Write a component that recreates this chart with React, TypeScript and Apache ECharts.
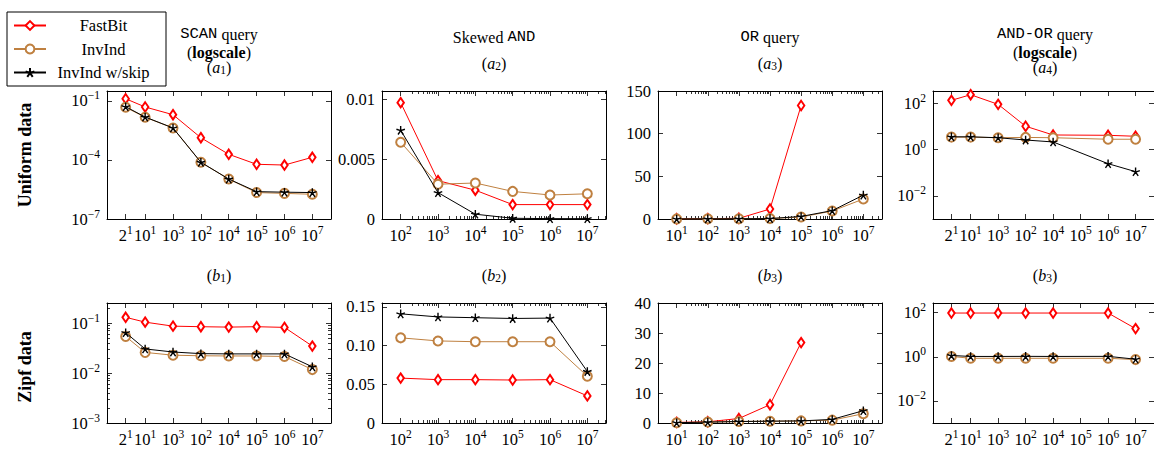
import React, { useEffect, useRef } from 'react';
import * as echarts from 'echarts';

// ---------- data ----------
const seriesNames = ['FastBit', 'InvInd', 'InvInd w/skip'];

const xMixed = [2, 10, 100, 1000, 1e4, 1e5, 1e6, 1e7];
const xMixedLabels = ['2^1', '10^1', '10^3', '10^2', '10^4', '10^5', '10^6', '10^7'];
const xAndOr = [2, 10, 100, 1000, 1e4, 1e6, 1e7];
const xSkewed = [1e2, 1e3, 1e4, 1e5, 1e6, 1e7];
const xSkewedLabels = ['10^2', '10^3', '10^4', '10^5', '10^6', '10^7'];
const xOr = [10, 100, 1000, 1e4, 1e5, 1e6, 1e7];
const xOrLabels = ['10^1', '10^2', '10^3', '10^4', '10^5', '10^6', '10^7'];
const xOrFastBit = [10, 100, 1000, 1e4, 1e5];

// (a1) SCAN query, uniform
const a1FastBit = [0.128, 0.0487, 0.0198, 0.00134, 0.000193, 0.00006, 0.000055, 0.000136];
const a1InvInd = [0.047, 0.0146, 0.0042, 0.0000757, 0.0000107, 0.0000022, 0.000002, 0.0000018];
const a1Skip = [0.0505, 0.0151, 0.0042, 0.000076, 0.0000107, 0.00000245, 0.0000023, 0.0000022];
// (a2) Skewed AND, uniform
const a2FastBit = [0.0097, 0.0032, 0.0024, 0.0012, 0.0012, 0.0012];
const a2InvInd = [0.0064, 0.0029, 0.003, 0.0023, 0.002, 0.0021];
const a2Skip = [0.0074, 0.0022, 0.0004, 0.00006, 0.00003, 0.00003];
// (a3) OR query, uniform
const a3FastBit = [0.3, 0.4, 0.8, 11.7, 133];
const a3InvInd = [0.1, 0.2, 0.3, 0.5, 2.3, 9.4, 23.4];
const a3Skip = [0.1, 0.2, 0.3, 0.5, 3.0, 9.8, 28];
// (a4) AND-OR query, uniform
const a4FastBit = [131, 229, 88, 10, 4.2, 4.07, 3.7];
const a4InvInd = [3.4, 3.4, 3.2, 3.3, 3.2, 2.75, 2.75];
const a4Skip = [3.5, 3.5, 3.2, 2.55, 2.1, 0.243, 0.11];
// (b1) SCAN query, zipf
const b1FastBit = [0.13, 0.104, 0.0865, 0.0843, 0.0828, 0.0843, 0.0817, 0.0345];
const b1InvInd = [0.0538, 0.0258, 0.0227, 0.0221, 0.0219, 0.0219, 0.0214, 0.0117];
const b1Skip = [0.064, 0.0303, 0.0263, 0.0244, 0.0241, 0.0241, 0.0241, 0.0133];
// (b2) Skewed AND, zipf
const b2FastBit = [0.058, 0.056, 0.056, 0.0555, 0.056, 0.035];
const b2InvInd = [0.11, 0.106, 0.105, 0.105, 0.105, 0.0605];
const b2Skip = [0.141, 0.137, 0.136, 0.135, 0.1355, 0.0665];
// (b3) OR query, zipf
const b3FastBit = [0.2, 0.4, 1.5, 6.1, 26.8];
const b3InvInd = [0.1, 0.3, 0.5, 0.6, 0.7, 0.95, 3.1];
const b3Skip = [0.1, 0.3, 0.5, 0.6, 0.7, 1.2, 4.1];
// (b4) AND-OR query, zipf
const b4FastBit = [96.6, 96.6, 96.6, 96.6, 96.6, 96.6, 19];
const b4InvInd = [1.04, 0.86, 0.86, 0.86, 0.86, 0.86, 0.75];
const b4Skip = [1.15, 1.04, 1.04, 1.05, 1.04, 1.05, 0.78];

// y tick values / labels
const yTicksA1 = [1e-7, 1e-4, 1e-1];
const yLabelsA1 = ['10^−7', '10^−4', '10^−1'];
const yTicksA2 = [0, 0.005, 0.01];
const yLabelsA2 = ['0', '0.005', '0.01'];
const yTicksA3 = [0, 50, 100, 150];
const yLabelsA3 = ['0', '50', '100', '150'];
const yTicksAO = [1e-2, 1, 100];
const yLabelsAO = ['10^−2', '10^0', '10^2'];
const yTicksB1 = [1e-3, 1e-2, 1e-1];
const yLabelsB1 = ['10^−3', '10^−2', '10^−1'];
const yTicksB2 = [0, 0.05, 0.1, 0.15];
const yLabelsB2 = ['0', '0.05', '0.10', '0.15'];
const yTicksB3 = [0, 10, 20, 30, 40];
const yLabelsB3 = ['0', '10', '20', '30', '40'];

const panelTitles = [
  ['{m|SCAN} query', '({bd|logscale})', '({i|a}{sub|1})'],
  ['Skewed {m|AND}', '', '({i|a}{sub|2})'],
  ['{m|OR} query', '', '({i|a}{sub|3})'],
  ['{m|AND-OR} query', '({bd|logscale})', '({i|a}{sub|4})'],
];
const bottomTitles = ['({i|b}{sub|1})', '({i|b}{sub|2})', '({i|b}{sub|3})', '({i|b}{sub|3})'];
const rowLabels = ['Uniform data', 'Zipf data'];

// ---------- layout & style ----------
const FONT = 'Liberation Serif';
const MONO = 'Liberation Mono';
const COL_LEFT = [107, 382, 658, 933];
const ROW_TOP = [91, 303];
const W = 224;
const H = 128;
const COLORS = ['#ff0000', '#bf8040', '#000000'];
const STAR =
  'path://M10,0L10,10M19.51,6.91L10,10M15.88,18.09L10,10M4.12,18.09L10,10M0.49,6.91L10,10';
const SYMBOLS: any[] = [
  { symbol: 'emptyDiamond', symbolSize: [6.5, 9.5], bw: 1 },
  { symbol: 'emptyCircle', symbolSize: 9, bw: 1 },
  { symbol: STAR, symbolSize: 8.5, bw: 1.4 },
];

const X_KINDS: any = {
  mixed: { min: -0.369, max: 7.67, majors: xMixed, labels: xMixedLabels, minor: false },
  skewed: { min: 1.5, max: 7.5, majors: xSkewed, labels: xSkewedLabels, minor: true },
  or: { min: 0.4, max: 7.6, majors: xOr, labels: xOrLabels, minor: true },
};

const panels: any[] = [
  { col: 0, row: 0, x: 'mixed', yLog: true, yMin: -7, yMax: -0.5, yTicks: yTicksA1, yLabels: yLabelsA1, yMinor: false,
    series: [[xMixed, a1FastBit], [xMixed, a1InvInd], [xMixed, a1Skip]] },
  { col: 1, row: 0, x: 'skewed', yLog: false, yMin: 0, yMax: 0.01067, yTicks: yTicksA2, yLabels: yLabelsA2,
    series: [[xSkewed, a2FastBit], [xSkewed, a2InvInd], [xSkewed, a2Skip]] },
  { col: 2, row: 0, x: 'or', yLog: false, yMin: 0, yMax: 150, yTicks: yTicksA3, yLabels: yLabelsA3,
    series: [[xOrFastBit, a3FastBit], [xOr, a3InvInd], [xOr, a3Skip]] },
  { col: 3, row: 0, x: 'mixed', yLog: true, yMin: -3, yMax: 2.52, yTicks: yTicksAO, yLabels: yLabelsAO,
    series: [[xAndOr, a4FastBit], [xAndOr, a4InvInd], [xAndOr, a4Skip]] },
  { col: 0, row: 1, x: 'mixed', yLog: true, yMin: -3, yMax: -0.6, yTicks: yTicksB1, yLabels: yLabelsB1, yMinor: true,
    series: [[xMixed, b1FastBit], [xMixed, b1InvInd], [xMixed, b1Skip]] },
  { col: 1, row: 1, x: 'skewed', yLog: false, yMin: 0, yMax: 0.155, yTicks: yTicksB2, yLabels: yLabelsB2,
    series: [[xSkewed, b2FastBit], [xSkewed, b2InvInd], [xSkewed, b2Skip]] },
  { col: 2, row: 1, x: 'or', yLog: false, yMin: 0, yMax: 40, yTicks: yTicksB3, yLabels: yLabelsB3,
    series: [[xOrFastBit, b3FastBit], [xOr, b3InvInd], [xOr, b3Skip]] },
  { col: 3, row: 1, x: 'mixed', yLog: true, yMin: -3, yMax: 2.44, yTicks: yTicksAO, yLabels: yLabelsAO,
    series: [[xAndOr, b4FastBit], [xAndOr, b4InvInd], [xAndOr, b4Skip]] },
];

const lg = (v: number) => Math.round(Math.log10(v) * 1e9) / 1e9;

// base text uses the label's own (plain) style, exponent goes into a rich token
const fmt = (label: string) => {
  const parts = label.split('^');
  return parts.length === 1 ? parts[0] : `${parts[0]}{s|${parts[1]}}`;
};

const AX_RICH = {
  s: { fontFamily: FONT, fontSize: 11.5, lineHeight: 23, verticalAlign: 'top', color: '#000' },
};

const logMinors = (first: number, max: number) => {
  const out: number[] = [];
  for (let d = first; d <= Math.floor(max); d++) {
    for (let k = 2; k <= 9; k++) {
      const v = d + Math.log10(k);
      if (v < max - 1e-9) out.push(v);
    }
  }
  return out;
};

const LINE = { color: '#000', width: 1 };
const TICK = { color: '#000', width: 0.8 };

function makeAxis(gi: number, pos: string, min: number, max: number, ticks: number[], len: number,
  line: boolean, labels?: string[], margin?: number) {
  const ax: any = {
    gridIndex: gi, type: 'value', position: pos, min, max, scale: true,
    splitLine: { show: false },
    axisLine: { show: line, onZero: false, lineStyle: LINE },
    axisTick: { show: true, inside: true, length: len, customValues: ticks, lineStyle: TICK },
    axisLabel: { show: false },
  };
  if (labels) {
    ax.axisLabel = {
      show: true, customValues: ticks, margin, color: '#000', fontFamily: FONT, fontSize: 16.5,
      lineHeight: 17, verticalAlign: pos === 'bottom' ? undefined : 'middle',
      rich: AX_RICH,
      formatter: (v: number) => {
        const i = ticks.findIndex((t) => Math.abs(t - v) < 1e-7 * Math.max(1, Math.abs(t)));
        return i >= 0 ? fmt(labels[i]) : '';
      },
    };
  }
  return ax;
}

function buildOption() {
  const grid: any[] = [];
  const xAxis: any[] = [];
  const yAxis: any[] = [];
  const series: any[] = [];
  panels.forEach((p, gi) => {
    grid.push({ left: COL_LEFT[p.col], top: ROW_TOP[p.row], width: W, height: H, show: false });
    const xk = X_KINDS[p.x];
    const xMaj = xk.majors.map(lg);
    const mainX = xAxis.length;
    xAxis.push(makeAxis(gi, 'bottom', xk.min, xk.max, xMaj, 5, true, xk.labels, 5));
    xAxis.push(makeAxis(gi, 'top', xk.min, xk.max, xMaj, 5, true));
    if (xk.minor) {
      const mn = logMinors(Math.round(xMaj[0]), xk.max);
      xAxis.push(makeAxis(gi, 'bottom', xk.min, xk.max, mn, 3, false));
      xAxis.push(makeAxis(gi, 'top', xk.min, xk.max, mn, 3, false));
    }
    const yMaj = p.yLog ? p.yTicks.map(lg) : p.yTicks;
    const mainY = yAxis.length;
    yAxis.push(makeAxis(gi, 'left', p.yMin, p.yMax, yMaj, 5, true, p.yLabels, 7));
    yAxis.push(makeAxis(gi, 'right', p.yMin, p.yMax, yMaj, 5, true));
    if (p.yMinor) {
      const mn = logMinors(Math.round(yMaj[0]), p.yMax);
      yAxis.push(makeAxis(gi, 'left', p.yMin, p.yMax, mn, 3, false));
      yAxis.push(makeAxis(gi, 'right', p.yMin, p.yMax, mn, 3, false));
    }
    p.series.forEach(([xs, ys]: [number[], number[]], si: number) => {
      series.push({
        type: 'line',
        name: seriesNames[si],
        xAxisIndex: mainX,
        yAxisIndex: mainY,
        data: xs.map((x, i) => [lg(x), p.yLog ? Math.log10(ys[i]) : ys[i]]),
        symbol: SYMBOLS[si].symbol,
        symbolSize: SYMBOLS[si].symbolSize,
        showAllSymbol: true,
        lineStyle: { color: COLORS[si], width: 1 },
        itemStyle: { color: COLORS[si], borderColor: COLORS[si], borderWidth: SYMBOLS[si].bw },
        emphasis: { disabled: true },
        silent: true,
        z: 3 + si,
      });
    });
  });

  const TS = 16;
  const TITLE_RICH = {
    m: { fontFamily: MONO, fontSize: 15.5, lineHeight: 13, color: '#000' },
    bd: { fontFamily: FONT, fontSize: TS, fontWeight: 'bold', lineHeight: 13, color: '#000' },
    i: { fontFamily: FONT, fontSize: TS, fontStyle: 'italic', lineHeight: 13, color: '#000' },
    sub: { fontFamily: FONT, fontSize: 11.5, lineHeight: 13, color: '#000', padding: [5, 0, 0, 0] },
  };
  const title: any[] = [];
  const addTitle = (cx: number, cy: number, t: string) => {
    const hasSub = t.indexOf('{sub|') >= 0;
    title.push({
      text: t, left: cx, top: cy - (hasSub ? 9 : 6.5), textAlign: 'center', padding: 0, itemGap: 0,
      textStyle: { color: '#000', fontFamily: FONT, fontSize: TS, fontWeight: 'normal', lineHeight: 13, rich: TITLE_RICH },
    });
  };
  panelTitles.forEach((lines, c) => {
    const ys = c === 1 || c === 2 ? [37, 0, 66] : [34, 52, 70];
    lines.forEach((t, li) => {
      if (t) addTitle(COL_LEFT[c] + W / 2, ys[li], t);
    });
  });
  bottomTitles.forEach((t, c) => addTitle(COL_LEFT[c] + W / 2, 278, t));

  const graphic: any[] = [];
  rowLabels.forEach((t, r) => {
    graphic.push({
      type: 'text', x: 25, y: ROW_TOP[r] + H / 2, rotation: Math.PI / 2, silent: true,
      style: { text: t, fill: '#000', fontFamily: FONT, fontSize: 18, fontWeight: 'bold',
        align: 'center', verticalAlign: 'middle', textAlign: 'center', textVerticalAlign: 'middle' },
    });
  });

  return {
    animation: false,
    backgroundColor: '#fff',
    textStyle: { fontFamily: FONT },
    grid, xAxis, yAxis, series, graphic, title,
    legend: {
      show: true, orient: 'vertical', left: 7, top: 12,
      padding: [5, 10, 5, 6], itemGap: 6.5, itemWidth: 32, itemHeight: 11,
      borderColor: '#000', borderWidth: 1, borderRadius: 0,
      data: seriesNames,
      formatter: (name: string) => `{c|${name}}`,
      textStyle: {
        color: '#000', fontFamily: FONT, fontSize: 16.5,
        rich: { c: { width: 105, align: 'center', fontFamily: FONT, fontSize: 16.5, lineHeight: 16, color: '#000' } },
      },
    },
  };
}

export default function App() {
  const ref = useRef<HTMLDivElement>(null);
  useEffect(() => {
    const chart = echarts.init(ref.current!, null, { renderer: 'svg' });
    chart.setOption(buildOption() as any);
    return () => chart.dispose();
  }, []);
  return (
    <div
      ref={ref}
      style={{ position: 'absolute', left: 0, top: 0, width: 1154, height: 451, background: '#fff' }}
    />
  );
}
